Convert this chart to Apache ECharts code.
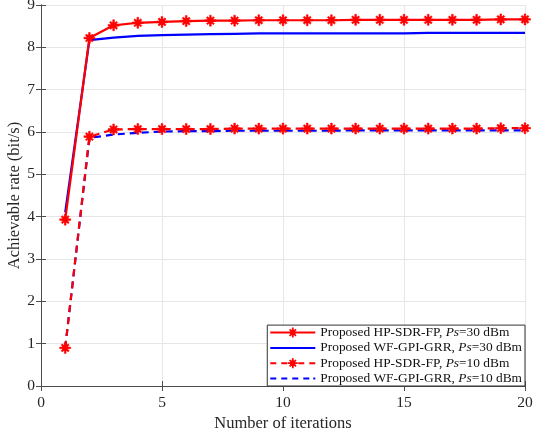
<!DOCTYPE html>
<html><head><meta charset="utf-8">
<script src="https://cdn.jsdelivr.net/npm/echarts@6/dist/echarts.min.js"></script>
<style>html,body{margin:0;padding:0;background:#fff}#c{width:534px;height:435px}</style>
</head><body><div id="c"></div>
<script>
const iterations = [1,2,3,4,5,6,7,8,9,10,11,12,13,14,15,16,17,18,19,20];
const hpSdr30 = [3.93,8.22,8.52,8.58,8.60,8.62,8.63,8.63,8.64,8.64,8.64,8.64,8.65,8.65,8.65,8.65,8.65,8.65,8.66,8.66];
const wfGpi30 = [4.10,8.17,8.23,8.27,8.29,8.30,8.31,8.32,8.33,8.33,8.33,8.33,8.33,8.33,8.33,8.34,8.34,8.34,8.34,8.34];
const hpSdr10 = [0.90,5.89,6.06,6.07,6.07,6.07,6.07,6.08,6.08,6.08,6.08,6.08,6.08,6.08,6.08,6.08,6.08,6.08,6.09,6.09];
const wfGpi10 = [0.90,5.86,5.94,5.98,6.01,6.02,6.02,6.03,6.03,6.03,6.03,6.03,6.04,6.04,6.04,6.04,6.04,6.04,6.04,6.04];
const xTicks = [0,5,10,15,20];
const yTicks = [0,1,2,3,4,5,6,7,8,9];
const names = ['HP30','WF30','HP10','WF10'];
const legendLabels = {
  HP30: ['Proposed HP-SDR-FP, ','=30 dBm'],
  WF30: ['Proposed WF-GPI-GRR, ','=30 dBm'],
  HP10: ['Proposed HP-SDR-FP, ','=10 dBm'],
  WF10: ['Proposed WF-GPI-GRR, ','=10 dBm']
};
const star = 'path://M0,4.2L10,4.2L10,5.8L0,5.8Z M4.2,0L5.8,0L5.8,10L4.2,10Z M1.3,2.4L2.4,1.3L8.7,7.6L7.6,8.7Z M7.6,1.3L8.7,2.4L2.4,8.7L1.3,7.6Z M5,2.4A2.6,2.6 0 1 1 4.99,2.4Z';
// legend icons drawn in a 45x12 box (corner specks fix the box)
const corners = 'M0,0L0.01,0L0.01,0.01Z M44.99,11.99L45,11.99L45,12Z ';
const iconStar = 'M17.5,5.1L27.5,5.1L27.5,6.9L17.5,6.9Z M21.6,1L23.4,1L23.4,11L21.6,11Z M18.7,3.4L19.9,2.2L26.3,8.6L25.1,9.8Z M25.1,2.2L26.3,3.4L19.9,9.8L18.7,8.6Z M22.5,3.1A2.9,2.9 0 1 1 22.49,3.1Z ';
const iconSolid = 'M0,5L45,5L45,7L0,7Z ';
const iconDash = 'M0,5L6,5L6,7L0,7Z M11,5L17,5L17,7L11,7Z M22,5L28,5L28,7L22,7Z M33,5L39,5L39,7L33,7Z M43,5L45,5L45,7L43,7Z ';
const iconDashStar = 'M0,5L6,5L6,7L0,7Z M11,5L17,5L17,7L11,7Z M28,5L34,5L34,7L28,7Z M39,5L45,5L45,7L39,7Z ';
const icons = {
  HP30: 'path://' + corners + iconSolid + iconStar,
  WF30: 'path://' + corners + iconSolid,
  HP10: 'path://' + corners + iconDashStar + iconStar,
  WF10: 'path://' + corners + iconDash
};
const font = 'Liberation Serif';
function pairs(arr){ return iterations.map((x,i)=>[x,arr[i]]); }
const chart = echarts.init(document.getElementById('c'), null, {renderer:'canvas'});
const axisColor = '#4d4d4d';
const txt = '#262626';
chart.setOption({
  animation:false,
  backgroundColor:'#fff',
  grid:{left:41,right:9,top:5,bottom:49,containLabel:false,outerBoundsMode:'none'},
  xAxis:[{
    type:'value',min:0,max:20,interval:5,
    name:'Number of iterations',nameLocation:'middle',nameGap:29,nameMoveOverlap:false,
    nameTextStyle:{fontFamily:font,fontSize:16.5,color:txt},
    axisLine:{show:true,lineStyle:{color:axisColor,width:1}},
    axisTick:{show:true,inside:true,length:5,lineStyle:{color:axisColor}},
    axisLabel:{fontFamily:font,fontSize:15.5,color:txt,margin:9},
    splitLine:{show:true,lineStyle:{color:'#e6e6e6',width:1}}
  },{
    type:'value',min:0,max:20,interval:5,position:'top',
    axisLine:{show:true,lineStyle:{color:axisColor,width:1}},
    axisTick:{show:true,inside:true,length:5,lineStyle:{color:axisColor}},
    axisLabel:{show:false},splitLine:{show:false}
  }],
  yAxis:[{
    type:'value',min:0,max:9,interval:1,
    name:'Achievable rate (bit/s)',nameLocation:'middle',nameGap:17.5,nameMoveOverlap:false,
    nameTextStyle:{fontFamily:font,fontSize:16.5,color:txt},
    axisLine:{show:true,lineStyle:{color:axisColor,width:1}},
    axisTick:{show:true,inside:true,length:5,lineStyle:{color:axisColor}},
    axisLabel:{fontFamily:font,fontSize:15.5,color:txt,margin:6},
    splitLine:{show:true,lineStyle:{color:'#e6e6e6',width:1}}
  },{
    type:'value',min:0,max:9,interval:1,position:'right',
    axisLine:{show:true,lineStyle:{color:axisColor,width:1}},
    axisTick:{show:true,inside:true,length:5,lineStyle:{color:axisColor}},
    axisLabel:{show:false},splitLine:{show:false}
  }],
  legend:{
    orient:'vertical',right:9,bottom:49,
    backgroundColor:'#fff',borderColor:'#333',borderWidth:1,borderRadius:0,
    padding:[1,3,1,3],itemGap:2.3,itemWidth:45,itemHeight:12,
    data:names.map(n=>({name:n,icon:icons[n],itemStyle:{borderWidth:0}})),
    textStyle:{fontFamily:font,fontSize:13.4,color:'#111',
      rich:{n:{fontFamily:font,fontSize:13.4,color:'#111'},i:{fontFamily:font,fontSize:13.4,fontStyle:'italic',color:'#111'}}},
    formatter:function(n){const l=legendLabels[n];return '{n|'+l[0]+'}{i|Ps}{n|'+l[1]+'}';}
  },
  series:[
    {name:'HP30',type:'line',data:pairs(hpSdr30),symbol:star,symbolSize:11,
     lineStyle:{color:'#ff0000',width:2.2},itemStyle:{color:'#ff0000',borderColor:'#ff0000',borderWidth:0.5},z:4},
    {name:'WF30',type:'line',data:pairs(wfGpi30),symbol:'none',
     lineStyle:{color:'#0000ff',width:2.2},itemStyle:{color:'#0000ff'},z:3},
    {name:'HP10',type:'line',data:pairs(hpSdr10),symbol:star,symbolSize:11,
     lineStyle:{color:'#ff0000',width:2.2,type:[7,5]},itemStyle:{color:'#ff0000',borderColor:'#ff0000',borderWidth:0.5},z:4},
    {name:'WF10',type:'line',data:pairs(wfGpi10),symbol:'none',
     lineStyle:{color:'#0000ff',width:2.2,type:[7,5]},itemStyle:{color:'#0000ff'},z:3}
  ]
});
</script></body></html>
